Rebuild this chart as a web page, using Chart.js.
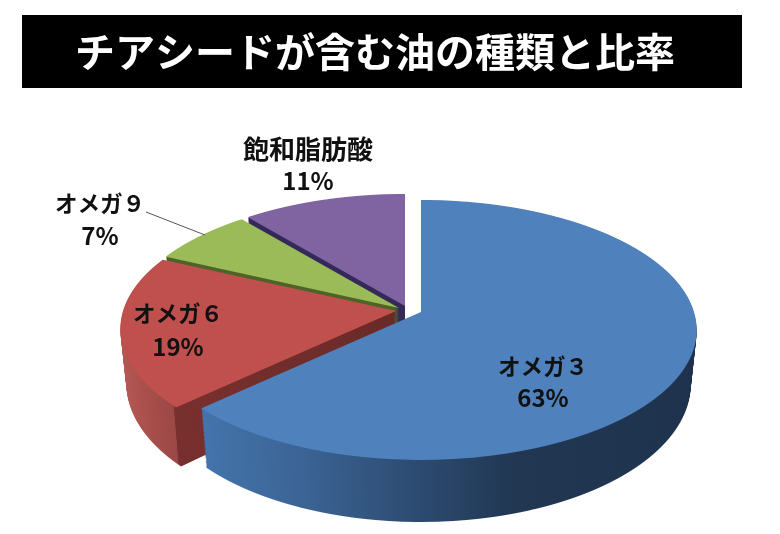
<!DOCTYPE html>
<html lang="ja">
<head>
<meta charset="utf-8">
<title>チアシードが含む油の種類と比率</title>
<script src="https://cdn.jsdelivr.net/npm/chart.js@4"></script>
<style>
html,body{margin:0;padding:0;background:#fff}
canvas{display:block}
</style>
</head>
<body>
<canvas id="c" width="780" height="534"></canvas>
<script>
const titleText = 'チアシードが含む油の種類と比率';
const categories = ['オメガ３', 'オメガ６', 'オメガ９', '飽和脂肪酸'];
const values = [63, 19, 7, 11];
const topColors = ['#4f81bd', '#c0504d', '#9bbb59', '#8064a2'];

// Perspective of the disc: half width, half depth, foreshortening, wall height
const VIEW = { R: 273, S: 127.5, p: 0.138, D: 53.5, shrink: 0.022 };
// Screen position of each slice's apex
const APEX = [[421, 312], [396, 311], [399, 308], [405, 306]];
// Wall shading along the disc's width (position 0..1, colour)
const WALLS = [
  [[0, '#4577b0'], [0.1, '#4577b0'], [0.3, '#3c6596'], [0.5, '#2c4a70'], [0.65, '#213752'], [1, '#1e324e']],
  [[0, '#b85a56'], [0.07, '#a94f4c'], [0.13, '#9a4846'], [0.131, '#78302e'], [0.5, '#6a2a28'], [1, '#6a2a28']],
  [[0, '#4f6228'], [1, '#4f6228']],
  [[0, '#35295a'], [1, '#35295a']]
];
const LABELS = [[543, 366, 398], [178, 313, 347], [100, 203, 236], [308, 149, 181]];
const NAME_SIZES = [22.5, 22.5, 22.5, 26];

function drawLayer(ctx, el, apex, t, step, W, H) {
  const { R, S, p, D, shrink } = VIEW;
  const r = el.outerRadius, cx = el.x, cy = el.y;
  const yTop = Math.max(0, Math.floor(apex[1] + (-S + t * D) / (1 + p)) - step);
  const yBot = Math.min(H, Math.ceil(apex[1] + (S + t * D) / (1 - p)) + step);
  for (let Y = yTop; Y < yBot; Y += step) {
    const yc = Y + step / 2 - apex[1];
    const v = (yc - t * D) / (S + p * yc);
    if (v < -1.02 || v > 1.02) continue;
    const w = 1 - p * v;
    const sx = R * (1 - shrink * t) / w / r;
    const sy = (S + p * t * D) / (w * w) / r;
    ctx.save();
    ctx.beginPath();
    ctx.rect(0, Y, W, step);
    ctx.clip();
    ctx.setTransform(sx, 0, 0, sy, apex[0] - sx * cx, apex[1] + yc - sy * (cy + v * r));
    el.draw(ctx);
    ctx.restore();
  }
}

const pie3d = {
  id: 'pie3d',
  beforeDraw(chart) {
    const ctx = chart.ctx;
    ctx.save();
    ctx.fillStyle = '#fff';
    ctx.fillRect(0, 0, chart.width, chart.height);
    ctx.fillStyle = '#000';
    ctx.fillRect(22, 15, 720, 73);
    ctx.restore();
  },
  afterLayout(chart) {
    chart.titleBlock.left -= 15;
    chart.titleBlock.right -= 15;
  },
  beforeDatasetDraw(chart, args) {
    const ctx = chart.ctx;
    const arcs = args.meta.data;
    const W = chart.width, H = chart.height;
    for (let i = arcs.length - 1; i >= 0; i--) {
      const el = arcs[i];
      const base = el.options;
      const g = ctx.createLinearGradient(el.x - el.outerRadius, 0, el.x + el.outerRadius, 0);
      WALLS[i].forEach(s => g.addColorStop(s[0], s[1]));
      el.options = Object.assign({}, base, { backgroundColor: g });
      for (let k = 48; k >= 1; k--) drawLayer(ctx, el, APEX[i], k / 48, 1, W, H);
      el.options = base;
      drawLayer(ctx, el, APEX[i], 0, 1, W, H);
    }
    return false;
  },
  afterDatasetsDraw(chart) {
    const ctx = chart.ctx;
    ctx.save();
    ctx.strokeStyle = '#555';
    ctx.lineWidth = 1;
    ctx.beginPath();
    ctx.moveTo(146, 212);
    ctx.lineTo(205, 235);
    ctx.stroke();
    ctx.fillStyle = '#111';
    ctx.textAlign = 'center';
    ctx.textBaseline = 'middle';
    categories.forEach((name, i) => {
      const [x, y1, y2] = LABELS[i];
      ctx.font = 'bold ' + NAME_SIZES[i] + 'px "Noto Sans CJK JP"';
      ctx.fillText(name, x, y1);
      ctx.font = 'bold 24px "Noto Sans CJK JP"';
      ctx.fillText(values[i] + '%', x, y2);
    });
    ctx.restore();
  }
};

new Chart(document.getElementById('c'), {
  type: 'pie',
  data: {
    labels: categories,
    datasets: [{ data: values, backgroundColor: topColors, borderWidth: 0 }]
  },
  options: {
    responsive: false,
    animation: false,
    events: [],
    plugins: {
      legend: { display: false },
      tooltip: { enabled: false },
      title: {
        display: true,
        text: titleText,
        color: '#fff',
        font: { family: '"Noto Sans CJK JP"', size: 40, weight: 'bold' },
        padding: { top: 28, bottom: 10 }
      }
    }
  },
  plugins: [pie3d]
});
</script>
</body>
</html>
